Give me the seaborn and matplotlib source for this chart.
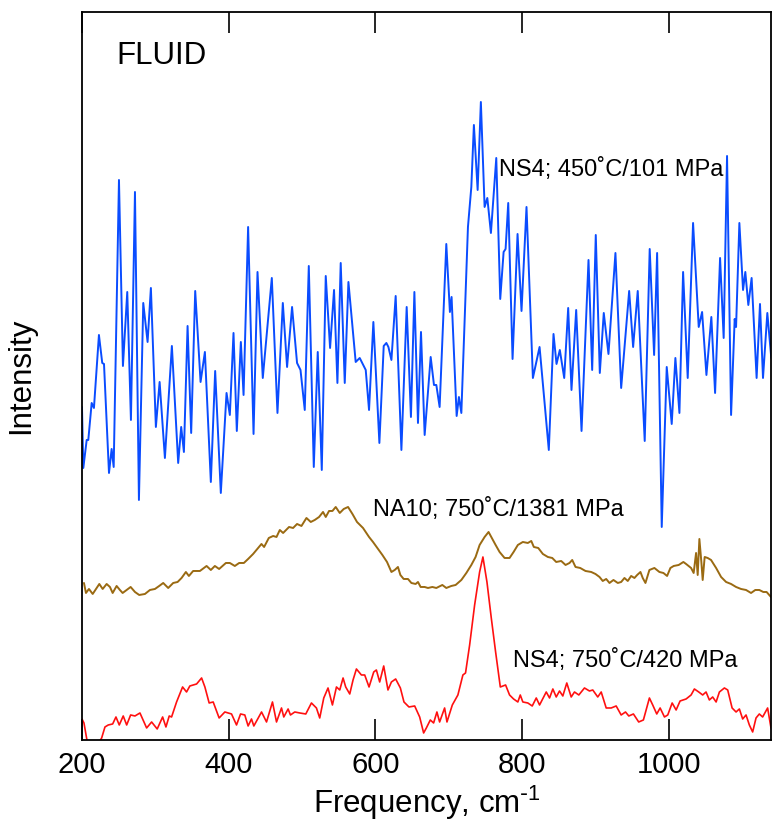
import matplotlib
matplotlib.use("Agg")
import matplotlib.pyplot as plt
import seaborn as sns
import pandas as pd

# ---- data (frequency in cm^-1, intensity in arbitrary units) ----
blue_x = [200, 201.8, 206.4, 208.6, 213.2, 216.3, 223.1, 227.6, 230, 236.8, 240.4, 243.2, 250.4, 255.8,
          261.7, 266.7, 272.2, 277.6, 283.5, 289.4, 293.9, 300.7, 305.8, 313, 322.5, 331.1, 335.2, 338.9,
          343.9, 348.8, 354.3, 361.6, 367.5, 375.6, 381.5, 389.2, 397, 401.5, 406.5, 411, 416.5, 420.2,
          426.4, 433.8, 439.2, 446.4, 458.7, 466.4, 473.7, 479.5, 486.3, 493.1, 497.8, 503.6, 509.1, 515.9,
          521.3, 526.8, 532.2, 538.1, 543.5, 548.1, 552.6, 558.1, 563.1, 573, 578.5, 586.7, 591.2, 597.1,
          605.3, 611.2, 614.8, 617.6, 621.7, 627.5, 635.3, 642.5, 648.3, 653, 657.9, 662,
          667, 675.2, 679.7, 682.9, 687.4, 696.5, 701.4, 703.7, 710.6, 713.7, 717, 726, 730.6, 734.1,
          739.2, 743.6, 748.7, 752.4, 757.3, 764.6, 770, 774.6, 777.3, 780.9, 786.8, 793.6, 799, 805.8,
          814.5, 823.6, 836.2, 842.6, 846.7, 851.2, 857.2, 862.6, 867.1, 873.5, 880.8, 890.3, 895.3, 900.2,
          905.7, 911.1, 917.5, 927, 934.8, 945.7, 951.1, 957.4, 966.9, 973.7, 979.7, 983.8, 990.1, 996.9,
          1003.7, 1008.7, 1014.2, 1019.2, 1025.5, 1032.8, 1040.5, 1045.1, 1051, 1057.7, 1062.8, 1069.6,
          1074.5, 1079.1, 1084.6, 1089.5, 1091.4, 1095.9, 1100.9, 1104, 1108.1, 1112.6, 1119.4, 1124,
          1128.1, 1134, 1139.4]
blue_y = [333, 272, 300, 300, 337, 332, 405, 377, 376, 267, 291, 273, 560, 374,
          448, 320, 548, 240, 437, 398, 452, 313, 358, 282, 394, 277, 313, 288,
          414, 307, 449, 358, 388, 258, 369, 247, 347, 325, 407, 309, 398, 345,
          513, 306, 468, 362, 462, 327, 437, 373, 433, 377, 370, 330, 474, 273,
          388, 270, 464, 392, 450, 357, 477, 357, 458, 378, 382, 370, 330, 418,
          297, 394, 397, 393, 380, 444, 290, 433, 323, 448, 317, 408,
          305, 383, 355, 355, 333, 496, 428, 443, 324, 343, 327, 513, 553, 615,
          550, 638, 533, 542, 507, 582, 441, 488, 491, 537, 381, 506, 429, 533,
          362, 393, 290, 406, 376, 390, 362, 432, 350, 430, 309, 480, 370, 505,
          367, 427, 386, 487, 352, 449, 393, 449, 299, 491, 385, 487, 213, 373,
          316, 382, 327, 468, 362, 517, 413, 428, 365, 423, 347, 482,
          402, 584, 325, 421, 413, 517, 450, 468, 435, 462, 362, 436,
          362, 427, 382]

brown_x = [202.7, 205.4, 209.5, 214.6, 219.1, 223.6, 228.2, 233.6, 238.1, 241.8, 247.2, 251.7, 255.4,
           260.9, 266.3, 272.2, 278, 285.8, 292.6, 299.4, 305.2, 310.7, 317.5, 324.3, 330.3, 335.7, 341.6,
           345.7, 351.5, 360.7, 369.8, 375.6, 381.1, 386.9, 396.1, 401.5, 408.3, 414.2, 420.6, 426.4, 433.2,
           440, 444.6, 448.2, 454.6, 460.5, 465.1, 469.6, 474.1, 482.2, 487.7, 493.1, 499.1, 505.9, 511.8,
           517.2, 523.1, 528.5, 532.2, 536.7, 541.3, 545.8, 551.3, 556.7, 562.6, 568.6, 574.8, 583, 591.2,
           596.6, 603.4, 609.4, 615.7, 621.7, 626.2, 630.6, 633.9, 638.4, 644.3, 648.9, 654.7, 657.9, 661.5,
           667, 671.5, 677.5, 682.9, 691.1, 696.5, 703.3, 709.2, 717, 723.8, 730.6, 736.4, 741.9, 748.7,
           754.1, 757.8, 763.7, 769.1, 775.9, 782.7, 788.2, 794, 800.8, 807.6, 812.3, 815.8, 821.8, 825,
           828.1, 834.9, 840.9, 846.3, 853.1, 859, 864.4, 868.1, 872.6, 879, 886.2, 894, 899.8, 905.3,
           909.7, 914.4, 918.9, 924.3, 930.2, 934.8, 939.3, 943.8, 948.4, 952.9, 956.6, 961.1, 964.2, 967.9,
           973.3, 980.1, 986.9, 992.4, 997.4, 1001.9, 1006.4, 1013.2, 1019.6, 1023.3, 1030.1, 1033.6,
           1036.9, 1039.1, 1041.4, 1044.1, 1045.9, 1048.6, 1052.7, 1057.3, 1064.2, 1071, 1077.8, 1084.6,
           1091.4, 1098.2, 1105, 1111.8, 1117.6, 1123.1, 1128.5, 1133, 1139]
brown_y = [157, 147, 151, 146, 151, 156, 151, 156, 153, 147, 154, 150, 147,
           150, 153, 148, 145, 146, 150, 151, 154, 157, 152, 157, 158, 162, 168,
           164, 169, 169, 174, 170, 174, 171, 177, 177, 174, 177, 177, 181, 186,
           192, 196, 193, 202, 204, 203, 210, 207, 213, 212, 216, 214, 222, 218,
           220, 223, 228, 223, 229, 229, 233, 227, 231, 233, 226, 218, 212, 203,
           198, 191, 185, 178, 168, 170, 173, 165, 161, 161, 157, 156, 158, 153,
           153, 152, 153, 152, 155, 152, 154, 155, 160, 167, 175, 183, 195, 203,
           208, 203, 195, 188, 182, 182, 188, 195, 198, 197, 199, 193, 192, 189,
           186, 183, 182, 178, 179, 175, 177, 180, 173, 172, 169, 168, 166, 163,
           159, 161, 157, 160, 157, 158, 162, 159, 164, 162, 165, 168, 162, 157,
           170, 172, 168, 167, 164, 172, 174, 175, 178, 176, 172, 167,
           187, 165, 201, 178, 160, 183, 182, 180, 172, 163, 158, 156,
           153, 151, 150, 147, 150, 150, 148, 148, 143]

red_x = [200, 202.7, 207.2, 213, 220, 226.8, 231.3, 235.8, 241.8, 246.3, 250.8, 256.2, 260.9, 266.3,
         272.2, 279, 288.1, 294.9, 302.5, 309.9, 314.4, 318.9, 322.1, 328.9, 337.1, 342.5, 347, 356.2,
         363, 367.5, 373.3, 378.8, 386.9, 394.7, 403.8, 410.6, 416.1, 421.9, 426.4, 431, 434.2, 444.7,
         451.5, 459.6, 465.1, 471.9, 475, 480.9, 484.1, 490, 496.8, 505, 512.7, 519.5, 524, 529.5, 535.3,
         541.3, 546.8, 551.3, 555.8, 559.4, 564.9, 569.4, 574, 580.8, 585.3, 591.2, 597.6, 601.2, 605.7,
         611.2, 617, 621.7, 627.5, 633.9, 638.8, 645.6, 653.4, 660.2, 665.6, 669.3, 674.7, 679.2, 683.7,
         687.4, 694.2, 697.4, 704.7, 712.3, 719.1, 722.7, 728.3, 735.1, 741.9, 746.4, 751.9, 757.8, 763.7,
         770.1, 777.3, 782.7, 788.2, 794, 797.3, 800.8, 807.6, 813.6, 819.1, 823.6, 832.7, 837.2, 841.7,
         846.3, 850.8, 855.3, 860.7, 866.7, 871.2, 877.1, 884.8, 891.6, 896.1, 902.9, 907.6, 914.4, 921.2,
         928, 934.8, 940.7, 945.2, 951.5, 958.7, 965.1, 973.3, 977.8, 983.3, 987.9, 993.8, 998.3, 1004.3,
         1009.7, 1015.1, 1023.3, 1030.1, 1034.6, 1040.5, 1045.9, 1050.5, 1055, 1059.5, 1064.2, 1068.7,
         1075.5, 1080, 1086, 1091.4, 1095.9, 1100.4, 1105, 1109.5, 1114, 1118.6, 1123.1, 1127.6, 1134.4,
         1139]
red_y = [21, 17, -2, -10, -6, 2, 13, 15, 16, 23, 15, 24, 15, 25,
         24, 27, 12, 18, 11, 23, 13, 24, 23, 38, 53, 48, 54, 56,
         62, 53, 37, 38, 22, 28, 26, 15, 26, 25, 14, 21, 14, 28,
         18, 38, 18, 32, 23, 31, 25, 28, 27, 26, 37, 32, 22, 42, 52,
         35, 53, 50, 62, 53, 46, 60, 71, 65, 65, 53, 68, 70, 58,
         74, 50, 58, 61, 52, 38, 33, 34, 23, 7, 12, 20, 17, 28,
         18, 32, 18, 35, 45, 65, 67, 95, 135, 168, 183, 158, 122, 88,
         53, 55, 45, 41, 38, 45, 38, 37, 34, 42, 35, 48, 42, 51,
         43, 49, 44, 57, 43, 48, 45, 52, 49, 50, 43, 48, 32, 32,
         34, 25, 28, 24, 26, 18, 20, 42, 35, 26, 32, 23, 25, 37,
         30, 39, 41, 45, 51, 48, 45, 48, 40, 43, 38, 48,
         52, 50, 32, 28, 31, 21, 25, 15, 8, 22, 26, 23, 32,
         12]

xtick_vals = [200, 400, 600, 800, 1000]
series_labels = ["NS4; 450˚C/101 MPa", "NA10; 750˚C/1381 MPa", "NS4; 750˚C/420 MPa"]
label_x = [768, 597, 788]
label_y = [570, 230, 79]
panel_title = "FLUID"

# ---- plotting ----
sns.set_theme(style="ticks")
plt.rcParams["font.family"] = ["Liberation Sans", "DejaVu Sans"]
plt.rcParams["mathtext.default"] = "regular"
plt.rcParams["text.color"] = "black"
plt.rcParams["axes.labelcolor"] = "black"
plt.rcParams["xtick.color"] = "black"

fig = plt.figure(figsize=(7.72, 8.32), dpi=100)
ax = fig.add_axes([0.1062, 0.1106, 0.8925, 0.875])

df_blue = pd.DataFrame({"x": blue_x, "y": blue_y})
df_brown = pd.DataFrame({"x": brown_x, "y": brown_y})
df_red = pd.DataFrame({"x": red_x, "y": red_y})

sns.lineplot(data=df_blue, x="x", y="y", ax=ax, color="#0a4cff", lw=1.4, estimator=None, sort=False)
sns.lineplot(data=df_brown, x="x", y="y", ax=ax, color="#9a6a12", lw=1.4, estimator=None, sort=False)
sns.lineplot(data=df_red, x="x", y="y", ax=ax, color="#ff1010", lw=1.2, estimator=None, sort=False)

ax.set_xlim(200, 1139)
ax.set_ylim(0, 728)
ax.set_xticks(xtick_vals)
ax.set_yticks([])
ax.tick_params(axis="x", which="both", direction="in", length=15, width=1.2,
               top=True, bottom=True, labelsize=21, pad=8, colors="black")
for s in ax.spines.values():
    s.set_color("black")
    s.set_linewidth(1.3)

ax.set_xlabel(r"Frequency, cm$^{\text{-}1}$", fontsize=22.5, labelpad=3)
ax.set_ylabel("Intensity", fontsize=22.5)
ax.yaxis.set_label_coords(-0.066, 0.5)

ax.text(0.0505, 0.94, panel_title, transform=ax.transAxes, fontsize=22.5, va="center", ha="left")
for lx, ly, lab in zip(label_x, label_y, series_labels):
    ax.text(lx, ly, lab, fontsize=17, va="center", ha="left")

fig.savefig("out.png", dpi=100)
